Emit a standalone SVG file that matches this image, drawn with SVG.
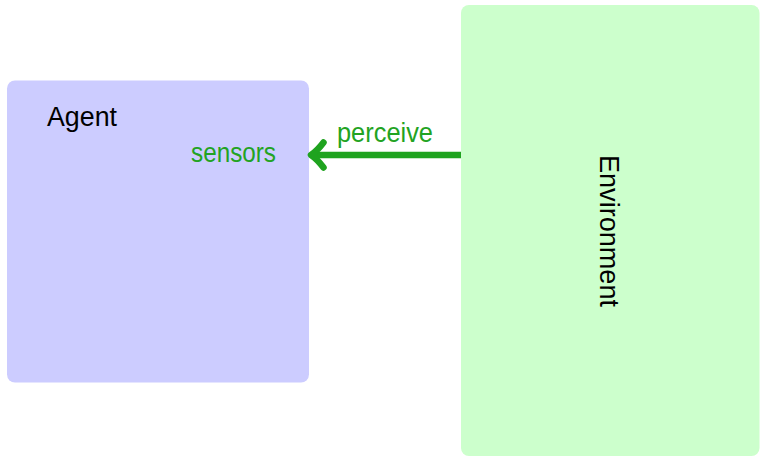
<svg xmlns="http://www.w3.org/2000/svg" width="760" height="457" viewBox="0 0 760 457">
  <style>
    .lbl { font-family: "Liberation Sans", Arial, sans-serif; font-size: 27px; }
    .dark { fill: #000000; }
    .green { fill: #22a322; }
    .conn { stroke: #1fa31f; stroke-width: 6.5; fill: none; stroke-linecap: round; stroke-linejoin: round; }
    .shaft { stroke-linecap: butt; }
  </style>
  <rect x="0" y="0" width="760" height="457" fill="#ffffff"/>
  <g id="agent">
    <rect x="7" y="80.5" width="302" height="302" rx="8" ry="8" fill="#ccccff"/>
    <text class="lbl dark" x="47" y="126" textLength="70" lengthAdjust="spacingAndGlyphs">Agent</text>
    <text class="lbl green" x="191" y="162" textLength="85" lengthAdjust="spacingAndGlyphs">sensors</text>
  </g>
  <g id="environment">
    <rect x="461" y="5" width="298.5" height="451" rx="8" ry="8" fill="#ccffcc"/>
    <text class="lbl dark" transform="translate(600,155) rotate(90)" x="0" y="0" textLength="152" lengthAdjust="spacingAndGlyphs">Environment</text>
  </g>
  <g id="connectors">
    <g id="perceive">
      <line class="conn shaft" x1="461" y1="155" x2="312" y2="155"/>
      <path class="conn" d="M 323.5 142.5 Q 317 151 311 155 Q 317 159 323.5 167.5"/>
      <text class="lbl green" x="337" y="142" textLength="96" lengthAdjust="spacingAndGlyphs">perceive</text>
    </g>
  </g>
</svg>
